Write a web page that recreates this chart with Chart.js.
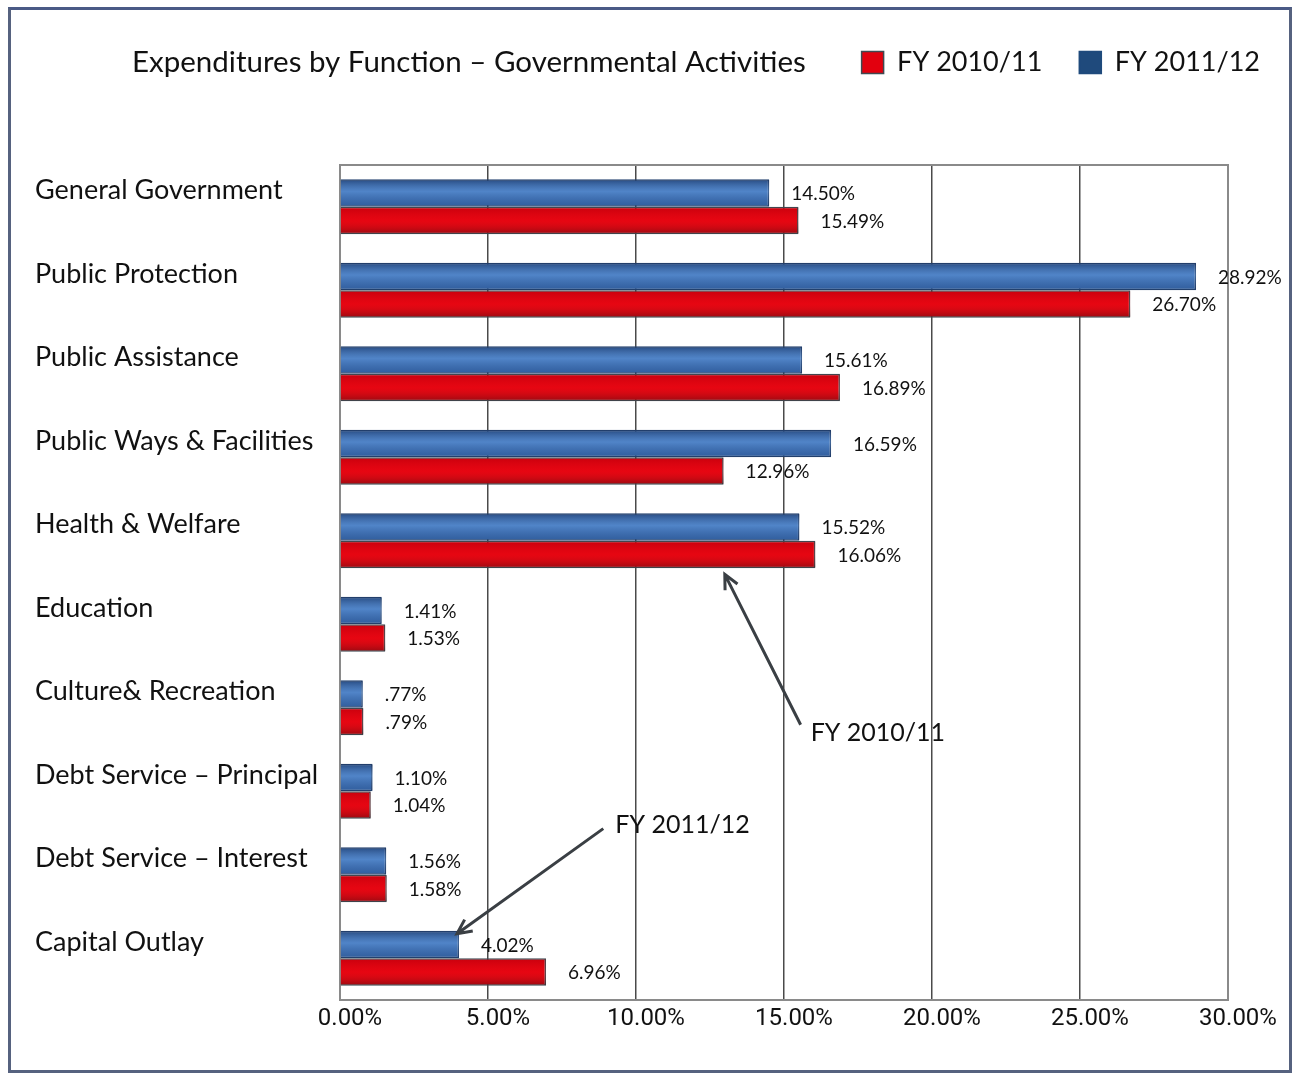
<!DOCTYPE html>
<html>
<head>
<meta charset="utf-8">
<title>Expenditures by Function</title>
<script src="https://cdn.jsdelivr.net/npm/chart.js@4.4.1/dist/chart.umd.min.js"></script>
<style>
    html, body { margin: 0; padding: 0; background: #ffffff; }
    #frame {
        position: absolute; left: 8px; top: 7px; width: 1284px; height: 1066px;
        box-sizing: border-box; border: 3px solid #56627f; border-top-color: #4a5a86;
    }
    #wrap { position: absolute; left: 0; top: 0; width: 1297px; height: 1076px; }
</style>
</head>
<body>
<div id="frame"></div>
<div id="wrap"><canvas id="expChart"></canvas></div>
<script>
const categories = [
    "General Government",
    "Public Protection",
    "Public Assistance",
    "Public Ways & Facilities",
    "Health & Welfare",
    "Education",
    "Culture& Recreation",
    "Debt Service \u2013 Principal",
    "Debt Service \u2013 Interest",
    "Capital Outlay"
];
const fy1112 = [14.50, 28.92, 15.61, 16.59, 15.52, 1.41, 0.77, 1.10, 1.56, 4.02];
const fy1011 = [15.49, 26.70, 16.89, 12.96, 16.06, 1.53, 0.79, 1.04, 1.58, 6.96];
const xTicks = [0, 5, 10, 15, 20, 25, 30];

const titleText = "Expenditures by Function \u2013 Governmental Activities";
const labelFont = "Lato, 'Open Sans', sans-serif";
const axisFont = "Roboto, sans-serif";

// callouts: text anchor in data space, arrow tip taken from a bar
const callouts = [
    { text: "FY 2010/11", x: 15.9, y: 6.3, dataset: 1, index: 4, tipX: 13.0, side: "bottom" },
    { text: "FY 2011/12", x: 9.3, y: 7.4, dataset: 0, index: 9, side: "end" }
];

const fmtPct = (v) => v.toFixed(2).replace(/^0\./, ".") + "%";

// legend row shares its line with the title; keep the fixed gap below it
const legendSpace = {
    id: "legendSpace",
    beforeLayout(chart) {
        const lg = chart.legend;
        if (!lg || lg._spaced) return;
        const fit = lg.fit;
        lg.fit = function () {
            fit.call(this);
            this.height = 153;
        };
        lg._spaced = true;
    }
};

const plotFrame = {
    id: "plotFrame",
    beforeDatasetsDraw(chart) {
        const { ctx, chartArea: a } = chart;
        ctx.save();
        ctx.strokeStyle = "#8a8a8a";
        ctx.lineWidth = 2;
        ctx.strokeRect(a.left, a.top, a.right - a.left, a.bottom - a.top);
        ctx.restore();
    }
};

// x tick labels sit just under the plot, nudged right of their gridline
const xTickLabels = {
    id: "xTickLabels",
    afterDraw(chart) {
        const { ctx, chartArea: a } = chart;
        const scale = chart.scales.x;
        ctx.save();
        ctx.font = "24px " + axisFont;
        ctx.fillStyle = "#111";
        ctx.textAlign = "center";
        ctx.textBaseline = "middle";
        scale.ticks.forEach((t) => {
            ctx.fillText(t.value.toFixed(2) + "%", scale.getPixelForValue(t.value) + 10, a.bottom + 19);
        });
        ctx.restore();
    }
};

// soft shading across each bar so the fills look rounded
const barShade = {
    id: "barShade",
    afterDatasetDraw(chart, args) {
        const { ctx } = chart;
        const meta = args.meta;
        const blue = args.index === 0;
        ctx.save();
        meta.data.forEach((el) => {
            const top = el.y - el.height / 2;
            const g = ctx.createLinearGradient(0, top, 0, top + el.height);
            if (blue) {
                g.addColorStop(0, "rgba(20,40,80,0.55)");
                g.addColorStop(0.45, "rgba(120,170,230,0.35)");
                g.addColorStop(1, "rgba(20,40,80,0.25)");
            } else {
                g.addColorStop(0, "rgba(120,0,10,0.25)");
                g.addColorStop(0.5, "rgba(255,40,40,0.15)");
                g.addColorStop(1, "rgba(60,20,20,0.45)");
            }
            ctx.fillStyle = g;
            ctx.fillRect(el.base, top + 1, el.x - el.base, el.height - 2);
        });
        ctx.restore();
    }
};

const valueLabels = {
    id: "valueLabels",
    afterDatasetsDraw(chart) {
        const { ctx } = chart;
        ctx.save();
        ctx.font = "19px " + labelFont;
        ctx.fillStyle = "#111";
        ctx.textBaseline = "middle";
        chart.data.datasets.forEach((ds, di) => {
            chart.getDatasetMeta(di).data.forEach((el, i) => {
                ctx.fillText(fmtPct(ds.data[i]), el.x + 22, el.y + 1);
            });
        });
        ctx.restore();
    }
};

const calloutArrows = {
    id: "calloutArrows",
    afterDatasetsDraw(chart) {
        const { ctx, scales } = chart;
        ctx.save();
        ctx.font = "25px " + labelFont;
        ctx.fillStyle = "#111";
        ctx.textBaseline = "middle";
        ctx.strokeStyle = "#3a3f44";
        ctx.lineWidth = 3;
        callouts.forEach((c) => {
            const tx = scales.x.getPixelForValue(c.x);
            const ty = scales.y.getPixelForValue(c.y);
            ctx.fillText(c.text, tx, ty);
            const el = chart.getDatasetMeta(c.dataset).data[c.index];
            let px, py, sx, sy;
            if (c.side === "bottom") {
                px = scales.x.getPixelForValue(c.tipX);
                py = el.y + el.height / 2 + 6;
                sx = tx - 10;
                sy = ty - 8;
            } else {
                px = el.x - 2;
                py = el.y - el.height / 2 + 3;
                sx = tx - 12;
                sy = ty + 4;
            }
            ctx.beginPath();
            ctx.moveTo(sx, sy);
            ctx.lineTo(px, py);
            const ang = Math.atan2(py - sy, px - sx);
            const len = 16, spread = 0.45;
            ctx.moveTo(px - len * Math.cos(ang - spread), py - len * Math.sin(ang - spread));
            ctx.lineTo(px, py);
            ctx.lineTo(px - len * Math.cos(ang + spread), py - len * Math.sin(ang + spread));
            ctx.stroke();
        });
        ctx.restore();
    }
};

const headerTitle = {
    id: "headerTitle",
    afterDraw(chart) {
        const box = chart.legend.legendHitBoxes[0];
        if (!box) return;
        const { ctx } = chart;
        ctx.save();
        ctx.font = "29.5px " + labelFont;
        ctx.fillStyle = "#111";
        ctx.textBaseline = "middle";
        ctx.fillText(titleText, 132, box.top + box.height / 2);
        ctx.restore();
    }
};

new Chart(document.getElementById("expChart"), {
    type: "bar",
    data: {
        labels: categories,
        datasets: [
            {
                label: "FY 2011/12",
                data: fy1112,
                backgroundColor: "#3b70b8",
                borderColor: "#23416e",
                borderWidth: 1.5,
                categoryPercentage: 0.66,
                barPercentage: 1.0
            },
            {
                label: "FY 2010/11",
                data: fy1011,
                backgroundColor: "#e2000e",
                borderColor: "#3f4a52",
                borderWidth: 1.5,
                categoryPercentage: 0.66,
                barPercentage: 1.0
            }
        ]
    },
    options: {
        indexAxis: "y",
        responsive: true,
        maintainAspectRatio: false,
        animation: false,
        layout: { padding: { left: 35, right: 0, top: 12, bottom: 0 } },
        plugins: {
            legend: {
                position: "top",
                align: "end",
                reverse: true,
                labels: {
                    color: "#111",
                    font: { family: labelFont, size: 27 },
                    boxWidth: 22,
                    boxHeight: 22,
                    padding: 37,
                    generateLabels: (chart) => Chart.defaults.plugins.legend.labels.generateLabels(chart)
                        .map((item) => item.datasetIndex === 0
                            ? { ...item, fillStyle: "#1f4a7c", strokeStyle: "#1f4a7c" }
                            : item)
                }
            },
            tooltip: { enabled: false }
        },
        scales: {
            x: {
                type: "linear",
                min: 0,
                max: 30,
                afterBuildTicks: (scale) => { scale.ticks = xTicks.map((v) => ({ value: v })); },
                afterFit: (scale) => { scale.height = 76; scale.paddingRight = 69; },
                grid: { color: "#4a4a4a", lineWidth: 1.5, drawTicks: false },
                border: { display: true, color: "#8a8a8a", width: 2 },
                ticks: { display: false }
            },
            y: {
                afterFit: (scale) => { scale.width = 305; scale.paddingTop = 0; scale.paddingBottom = 0; },
                grid: { display: false },
                border: { display: true, color: "#8a8a8a", width: 2 },
                ticks: {
                    color: "#111",
                    crossAlign: "far",
                    labelOffset: -16,
                    font: { family: labelFont, size: 27 }
                }
            }
        }
    },
    plugins: [legendSpace, plotFrame, barShade, valueLabels, calloutArrows, xTickLabels, headerTitle]
});
</script>
</body>
</html>
